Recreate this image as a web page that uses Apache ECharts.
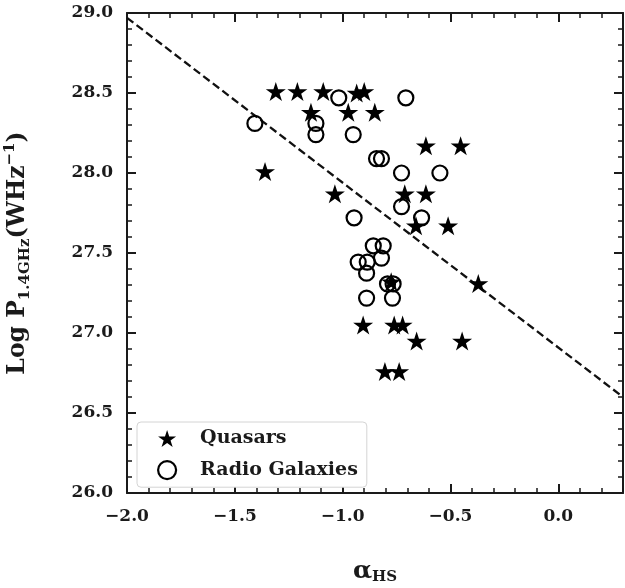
<!DOCTYPE html>
<html>
<head>
<meta charset="utf-8">
<script src="https://cdn.jsdelivr.net/npm/echarts@6/dist/echarts.min.js"></script>
<style>html,body{margin:0;padding:0;background:#fff;}#c{width:625px;height:588px;}</style>
</head>
<body>
<div id="c"></div>
<script>
// ---- data ----
var quasarX = [-1.31, -1.21, -1.09, -0.935, -0.90, -1.147, -0.974, -0.851, -0.614, -0.453, -1.36, -1.036, -0.712, -0.614, -0.66, -0.511, -0.371, -0.905, -0.761, -0.722, -0.657, -0.446, -0.804, -0.738, -0.775];
var quasarY = [28.51, 28.51, 28.51, 28.50, 28.51, 28.38, 28.38, 28.38, 28.17, 28.17, 28.01, 27.87, 27.87, 27.87, 27.67, 27.67, 27.31, 27.05, 27.05, 27.05, 26.95, 26.95, 26.76, 26.76, 27.32];
var galaxyX = [-1.018, -0.707, -1.407, -1.124, -1.124, -0.951, -0.843, -0.82, -0.727, -0.549, -0.727, -0.634, -0.947, -0.858, -0.812, -0.82, -0.928, -0.886, -0.889, -0.792, -0.766, -0.889, -0.769];
var galaxyY = [28.47, 28.47, 28.31, 28.31, 28.24, 28.24, 28.09, 28.09, 28.00, 28.00, 27.79, 27.72, 27.72, 27.545, 27.545, 27.468, 27.443, 27.443, 27.374, 27.307, 27.307, 27.218, 27.218];
var fitLineX = [-2.0, 0.3];
var fitLineY = [28.97, 26.60];
var xTickValues = [-2.0, -1.5, -1.0, -0.5, 0.0];
var yTickValues = [26.0, 26.5, 27.0, 27.5, 28.0, 28.5, 29.0];
var seriesNames = ['Quasars', 'Radio Galaxies'];

function zip(a, b) { return a.map(function (v, i) { return [v, b[i]]; }); }

var STAR = 'path://M50 0 L61.23 34.55 L97.55 34.55 L68.16 55.9 L79.39 90.45 L50 69.1 L20.61 90.45 L31.84 55.9 L2.45 34.55 L38.77 34.55 Z';
var FONT = 'DejaVu Serif';
var INK = '#1a1a1a';

function fmtX(v) {
  var s = v.toFixed(1);
  return s.charAt(0) === '-' ? '\u2212' + s.slice(1) : s;
}

var chart = echarts.init(document.getElementById('c'), null, { renderer: 'canvas' });

var majorX = function (pos, showLabel) {
  return {
    type: 'value', position: pos, min: -2, max: 0.3, interval: 0.5,
    axisLine: { show: true, onZero: false, lineStyle: { color: INK, width: 2 } },
    axisTick: { show: true, inside: true, length: 9, lineStyle: { color: INK, width: 2 } },
    axisLabel: showLabel ? {
      show: true, margin: 15, fontFamily: FONT, fontWeight: 'bold', fontSize: 17, color: INK,
      showMaxLabel: false,
      formatter: function (v) { return xTickValues.some(function (t) { return Math.abs(t - v) < 1e-6; }) ? fmtX(v) : ''; }
    } : { show: false },
    splitLine: { show: false }
  };
};
var minorX = function (pos) {
  return {
    type: 'value', position: pos, min: -2, max: 0.3, interval: 0.1,
    axisLine: { show: false, onZero: false },
    axisTick: { show: true, inside: true, length: 5, lineStyle: { color: INK, width: 1.5 } },
    axisLabel: { show: false }, splitLine: { show: false }
  };
};
var yAx = function (pos, showLabel) {
  return {
    type: 'value', position: pos, min: 26, max: 29, interval: 0.5,
    axisLine: { show: true, onZero: false, lineStyle: { color: INK, width: 2 } },
    axisTick: { show: true, inside: true, length: 9, lineStyle: { color: INK, width: 2 } },
    minorTick: { show: true, splitNumber: 5, length: 5, lineStyle: { color: INK, width: 1.5 } },
    axisLabel: showLabel ? {
      show: true, margin: 14, fontFamily: FONT, fontWeight: 'bold', fontSize: 17, color: INK,
      formatter: function (v) { return v.toFixed(1); }
    } : { show: false },
    splitLine: { show: false }, minorSplitLine: { show: false }
  };
};

var xMain = majorX('bottom', true);
xMain.name = '{a|\u03b1}{s|HS}';
xMain.nameLocation = 'middle';
xMain.nameGap = 64;
xMain.nameTextStyle = {
  rich: {
    a: { fontFamily: FONT, fontWeight: 'bold', fontSize: 25, color: INK, lineHeight: 28 },
    s: { fontFamily: FONT, fontWeight: 'bold', fontSize: 15, color: INK, lineHeight: 15, verticalAlign: 'bottom' }
  }
};

var yMain = yAx('left', true);
yMain.name = '{a|Log P}{s|1.4GHz}{a|(WHz}{p|\u22121}{a|)}';
yMain.nameLocation = 'middle';
yMain.nameRotate = 90;
yMain.nameGap = 94;
yMain.nameTextStyle = {
  rich: {
    a: { fontFamily: FONT, fontWeight: 'bold', fontSize: 23.5, color: INK, lineHeight: 30 },
    s: { fontFamily: FONT, fontWeight: 'bold', fontSize: 15, color: INK, lineHeight: 15, verticalAlign: 'bottom' },
    p: { fontFamily: FONT, fontWeight: 'bold', fontSize: 15, color: INK, lineHeight: 15, verticalAlign: 'top' }
  }
};

var option = {
  animation: false,
  backgroundColor: '#fff',
  grid: { left: 127, right: 2, top: 13, bottom: 95, containLabel: false, outerBoundsMode: 'none' },
  xAxis: [xMain, minorX('bottom'), majorX('top', false), minorX('top')],
  yAxis: [yMain, yAx('right', false)],
  legend: {
    orient: 'vertical', left: 137, top: 422,
    padding: [7, 9, 7, 20], itemGap: 12, itemWidth: 18, itemHeight: 18,
    backgroundColor: '#fff', borderColor: '#d4d4d4', borderWidth: 1, borderRadius: 4,
    textStyle: { fontFamily: FONT, fontWeight: 'bold', fontSize: 19, color: INK, padding: [0, 0, 0, 19] },
    data: [
      { name: seriesNames[0], icon: STAR, itemStyle: { color: '#000', opacity: 1 } },
      { name: seriesNames[1], icon: 'circle', itemStyle: { color: 'rgba(0,0,0,0)', borderColor: '#000', borderWidth: 2.2, opacity: 1 } }
    ]
  },
  series: [
    {
      type: 'line', name: 'fit', xAxisIndex: 0, yAxisIndex: 0,
      data: zip(fitLineX, fitLineY), showSymbol: false, symbol: 'none',
      lineStyle: { color: '#111', width: 2.3, type: [8, 4] }, silent: true, z: 1
    },
    {
      type: 'scatter', name: seriesNames[0], xAxisIndex: 0, yAxisIndex: 0,
      data: zip(quasarX, quasarY), symbol: STAR, symbolSize: [20, 19],
      itemStyle: { color: '#000', opacity: 1 }, z: 2
    },
    {
      type: 'scatter', name: seriesNames[1], xAxisIndex: 0, yAxisIndex: 0,
      data: zip(galaxyX, galaxyY), symbol: 'circle', symbolSize: 15,
      itemStyle: { color: 'rgba(0,0,0,0)', borderColor: '#000', borderWidth: 2.2, opacity: 1 }, z: 3
    }
  ]
};
chart.setOption(option);
</script>
</body>
</html>
